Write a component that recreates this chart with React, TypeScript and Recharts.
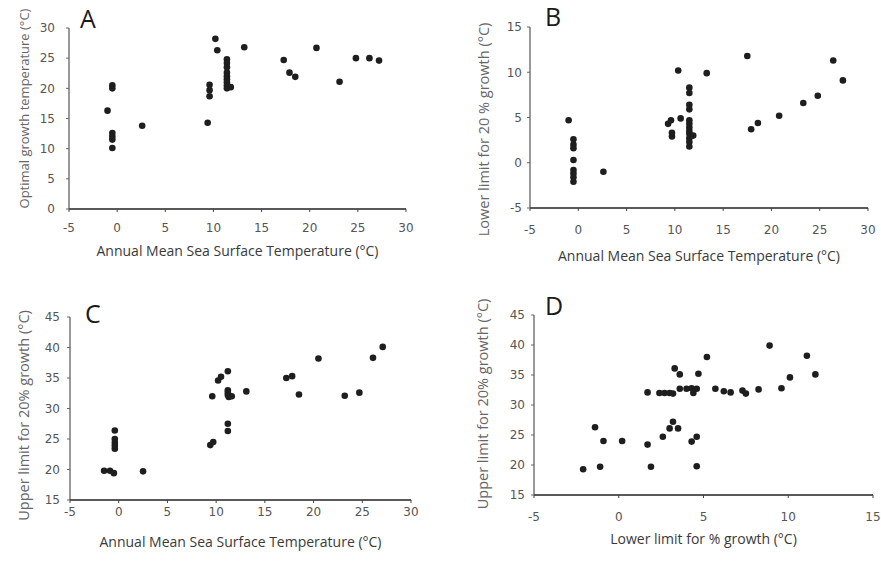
import { ScatterChart, Scatter, XAxis, YAxis, Label } from 'recharts';

type Pt = [number, number];

// SST (°C) vs optimal growth temperature (°C)
const optimumVsSst: Pt[] = [
  [-1.0, 16.3], [-0.5, 20.5], [-0.5, 20.0], [-0.5, 12.6], [-0.5, 12.0], [-0.5, 11.5], [-0.5, 10.1], [2.6, 13.8],
  [9.4, 14.3], [9.6, 20.6], [9.6, 19.7], [9.6, 18.7], [10.2, 28.2], [10.4, 26.3],
  [11.4, 24.8], [11.4, 24.2], [11.4, 23.5], [11.4, 22.6], [11.4, 22.0], [11.4, 21.5], [11.4, 21.0], [11.4, 20.5],
  [11.4, 20.0], [11.8, 20.2],
  [13.2, 26.8], [17.3, 24.7], [17.9, 22.6], [18.5, 21.9], [20.7, 26.7], [23.1, 21.1], [24.8, 25.0], [26.2, 25.0],
  [27.2, 24.6],
];

// SST (°C) vs lower limit for 20 % growth (°C)
const lowerVsSst: Pt[] = [
  [-1.0, 4.7], [-0.5, 2.6], [-0.5, 2.0], [-0.5, 1.6], [-0.5, 0.3], [-0.5, -0.8], [-0.5, -1.2], [-0.5, -1.6],
  [-0.5, -2.1], [2.6, -1.0],
  [9.3, 4.3], [9.6, 4.7], [9.7, 2.9], [9.7, 3.3], [10.35, 10.2], [10.6, 4.9],
  [11.5, 8.3], [11.5, 7.7], [11.5, 6.4], [11.5, 5.9], [11.5, 4.7], [11.5, 4.3], [11.5, 3.9], [11.5, 3.5],
  [11.5, 3.2], [11.5, 2.7], [11.5, 2.3], [11.5, 1.8], [11.9, 3.0],
  [13.3, 9.9], [17.5, 11.8], [17.9, 3.7], [18.6, 4.4], [20.8, 5.2], [23.3, 6.6], [24.8, 7.4], [26.4, 11.3],
  [27.4, 9.1],
];

// SST (°C) vs upper limit for 20 % growth (°C)
const upperVsSst: Pt[] = [
  [-1.5, 19.8], [-0.9, 19.8], [-0.5, 19.4], [-0.4, 26.4], [-0.4, 25.0], [-0.4, 24.4], [-0.4, 23.9], [-0.4, 23.4],
  [2.5, 19.7],
  [9.4, 24.0], [9.7, 24.5], [9.6, 32.0], [10.2, 34.6], [10.5, 35.2], [11.2, 36.1], [11.2, 33.0], [11.2, 32.6],
  [11.2, 32.2], [11.3, 31.9], [11.6, 32.0], [11.2, 27.5], [11.2, 26.3],
  [13.1, 32.8], [17.2, 35.0], [17.8, 35.3], [18.5, 32.3], [20.5, 38.2], [23.2, 32.1], [24.7, 32.6], [26.1, 38.3],
  [27.1, 40.1],
];

// lower limit vs upper limit (°C)
const upperVsLower: Pt[] = [
  [-2.1, 19.3], [-1.1, 19.7], [-1.4, 26.3], [-0.9, 24.0], [0.2, 24.0], [1.7, 23.4], [1.7, 32.1], [1.9, 19.7],
  [2.6, 24.7], [2.4, 32.0], [2.7, 32.0], [3.0, 32.0], [3.2, 31.9], [3.2, 27.2], [3.0, 26.1], [3.5, 26.1],
  [3.3, 36.1], [3.6, 35.1], [3.6, 32.7], [4.0, 32.7], [4.3, 32.8], [4.6, 32.7], [4.4, 32.0], [4.3, 23.9],
  [4.6, 24.7], [4.6, 19.8], [4.7, 35.2], [5.2, 38.0], [5.7, 32.7], [6.2, 32.3], [6.6, 32.1], [7.3, 32.4],
  [7.5, 31.9], [8.25, 32.6], [8.9, 39.9], [9.6, 32.8], [10.1, 34.6], [11.1, 38.2], [11.6, 35.1],
];

const sstTicks = [-5, 0, 5, 10, 15, 20, 25, 30];
const lowerTicks = [-5, 0, 5, 10, 15];
const optimumTicks = [0, 5, 10, 15, 20, 25, 30];
const lowerLimitTicks = [-5, 0, 5, 10, 15];
const upperTicks = [15, 20, 25, 30, 35, 40, 45];

const sstTitle = 'Annual Mean Sea Surface Temperature (°C)';

type PanelProps = {
  letter: string;
  data: Pt[];
  left: number;
  top: number;
  width: number;
  margin: { top: number; right: number; bottom: number };
  yWidth: number;
  xTicks: number[];
  yTicks: number[];
  xTitle: string;
  yTitle: string;
  xTitleOffset: number;
  yTitleX: number;
  yTitleDy: number;
  yTitleSize: number;
  xTickGap: number;
  yTickGap: number;
  letterPos: [number, number];
};

const tickStyle = { fontFamily: '"DejaVu Sans", sans-serif', fontSize: 12, fill: '#555' };
const titleStyle = { fontFamily: '"Open Sans", sans-serif', fontSize: 14, fill: '#3a3a3a' };

// small dark dot
const Dot = (props: any) => <circle cx={props.cx} cy={props.cy} r={3.3} fill="#1e1e1e" />;

function Panel(p: PanelProps) {
  const rows = p.data.map(([x, y]) => ({ x, y }));

  // rotated y title, placed from the axis box
  const yTitle = (props: any) => {
    const vb = props.viewBox || { x: 0, y: 0, height: 0 };
    const cx = vb.x + p.yTitleX;
    const cy = vb.y + vb.height / 2 + p.yTitleDy;
    return (
      <text
        x={cx}
        y={cy}
        transform={`rotate(-90 ${cx} ${cy})`}
        textAnchor="middle"
        dominantBaseline="central"
        style={{ ...titleStyle, fontSize: p.yTitleSize, fill: '#666' }}
      >
        {p.yTitle}
      </text>
    );
  };

  return (
    <div style={{ position: 'absolute', left: p.left, top: p.top }}>
      <ScatterChart
        width={p.width}
        height={282}
        margin={{ top: p.margin.top, right: p.margin.right, bottom: p.margin.bottom, left: 0 }}
      >
        <XAxis
          type="number"
          dataKey="x"
          domain={[p.xTicks[0], p.xTicks[p.xTicks.length - 1]]}
          ticks={p.xTicks}
          interval={0}
          height={20}
          tickSize={3}
          tickMargin={p.xTickGap + 1}
          tick={tickStyle}
          axisLine={{ stroke: '#222', strokeWidth: 1.6 }}
          tickLine={{ stroke: '#444' }}
        >
          <Label value={p.xTitle} position="bottom" offset={p.xTitleOffset} style={titleStyle} />
        </XAxis>
        <YAxis
          type="number"
          dataKey="y"
          domain={[p.yTicks[0], p.yTicks[p.yTicks.length - 1]]}
          ticks={p.yTicks}
          interval={0}
          width={p.yWidth}
          tickSize={3}
          tickMargin={p.yTickGap + 1}
          tick={tickStyle}
          axisLine={{ stroke: '#444', strokeWidth: 1.1 }}
          tickLine={{ stroke: '#666' }}
        >
          <Label content={yTitle} />
        </YAxis>
        <Scatter data={rows} fill="#1e1e1e" shape={Dot} isAnimationActive={false} />
      </ScatterChart>
      <div
        style={{
          position: 'absolute',
          left: p.letterPos[0],
          top: p.letterPos[1],
          fontFamily: '"Open Sans", sans-serif',
          fontSize: 25,
          lineHeight: 1,
          color: '#1a1a1a',
        }}
      >
        {p.letter}
      </div>
    </div>
  );
}

export default function App() {
  return (
    <div style={{ position: 'absolute', left: 0, top: 0, width: 881, height: 564, background: '#fff' }}>
      <Panel
        letter="A"
        data={optimumVsSst}
        left={0}
        top={0}
        width={440}
        margin={{ top: 28, right: 34, bottom: 53 }}
        yWidth={69}
        xTicks={sstTicks}
        yTicks={optimumTicks}
        xTitle={sstTitle}
        yTitle="Optimal growth temperature (°C)"
        xTitleOffset={17}
        yTitleX={24}
        yTitleDy={-10}
        yTitleSize={13}
        xTickGap={10}
        yTickGap={10}
        letterPos={[80, 6]}
      />
      <Panel
        letter="B"
        data={lowerVsSst}
        left={440}
        top={0}
        width={441}
        margin={{ top: 27, right: 13, bottom: 54 }}
        yWidth={90}
        xTicks={sstTicks}
        yTicks={lowerLimitTicks}
        xTitle={sstTitle}
        yTitle="Lower limit for 20 % growth (°C)"
        xTitleOffset={23}
        yTitleX={43}
        yTitleDy={12}
        yTitleSize={14.5}
        xTickGap={13}
        yTickGap={4}
        letterPos={[105, 4]}
      />
      <Panel
        letter="C"
        data={upperVsSst}
        left={0}
        top={282}
        width={440}
        margin={{ top: 35, right: 29, bottom: 44 }}
        yWidth={70}
        xTicks={sstTicks}
        yTicks={upperTicks}
        xTitle={sstTitle}
        yTitle="Upper limit for 20% growth (°C)"
        xTitleOffset={17}
        yTitleX={23}
        yTitleDy={7}
        yTitleSize={14.5}
        xTickGap={3}
        yTickGap={6}
        letterPos={[85, 19]}
      />
      <Panel
        letter="D"
        data={upperVsLower}
        left={440}
        top={282}
        width={441}
        margin={{ top: 33, right: 8, bottom: 49 }}
        yWidth={94}
        xTicks={lowerTicks}
        yTicks={upperTicks}
        xTitle="Lower limit for % growth (°C)"
        yTitle="Upper limit for 20% growth (°C)"
        xTitleOffset={19}
        yTitleX={42}
        yTitleDy={-1}
        yTitleSize={14.5}
        xTickGap={13}
        yTickGap={5}
        letterPos={[105, 11]}
      />
    </div>
  );
}
